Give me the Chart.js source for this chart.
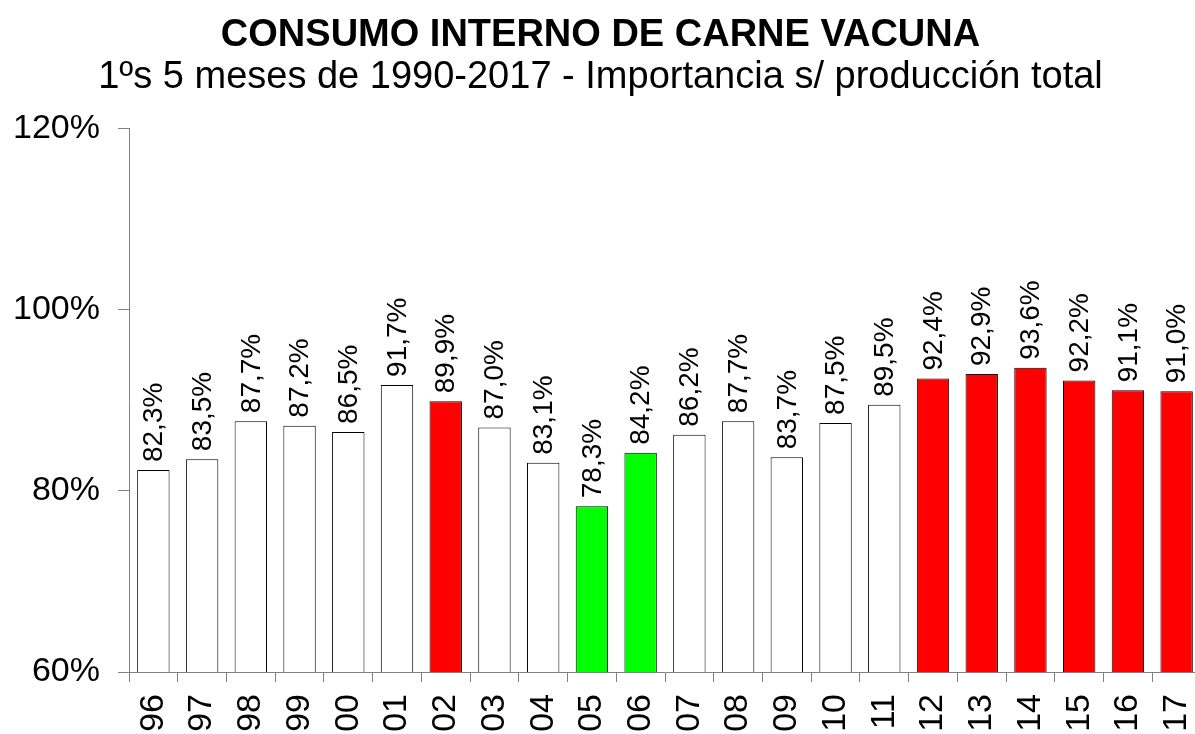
<!DOCTYPE html>
<html>
<head>
<meta charset="utf-8">
<script src="https://cdn.jsdelivr.net/npm/chart.js@4/dist/chart.umd.min.js"></script>
<style>
  html, body { margin: 0; padding: 0; background: #fff; overflow: hidden; }
  #wrap { width: 1201px; height: 734px; }
</style>
</head>
<body>
<div id="wrap"><canvas id="chart" width="1201" height="734"></canvas></div>
<script>
// ─── datos ───────────────────────────────────────────────
const years = ['96', '97', '98', '99', '00', '01', '02', '03', '04', '05', '06',
  '07', '08', '09', '10', '11', '12', '13', '14', '15', '16', '17'];
const share = [82.3, 83.5, 87.7, 87.2, 86.5, 91.7, 89.9, 87.0, 83.1, 78.3, 84.2,
  86.2, 87.7, 83.7, 87.5, 89.5, 92.4, 92.9, 93.6, 92.2, 91.1, 91.0];
// w = blanco, r = rojo, g = verde
const tone = ['w', 'w', 'w', 'w', 'w', 'w', 'r', 'w', 'w', 'g', 'g',
  'w', 'w', 'w', 'w', 'w', 'r', 'r', 'r', 'r', 'r', 'r'];
const yTicks = [60, 80, 100, 120];

const FONT = "'Liberation Sans', Arial, Helvetica, sans-serif";
const AXIS = '#808080';
const fills = { w: '#FFFFFF', r: '#FF0000', g: '#00FF00' };

const fmt = v => v.toFixed(1).replace('.', ',') + '%';

// etiquetas verticales sobre cada barra
const barLabels = {
  id: 'barLabels',
  afterDatasetsDraw(chart) {
    const ctx = chart.ctx;
    const meta = chart.getDatasetMeta(0);
    ctx.save();
    ctx.font = '28px ' + FONT;
    ctx.fillStyle = '#000';
    ctx.textAlign = 'left';
    ctx.textBaseline = 'middle';
    meta.data.forEach((bar, i) => {
      ctx.save();
      ctx.translate(bar.x + 1, bar.y - 8);
      ctx.rotate(-Math.PI / 2);
      ctx.fillText(fmt(share[i]), 0, 0);
      ctx.restore();
    });
    ctx.restore();
  }
};

new Chart(document.getElementById('chart'), {
  type: 'bar',
  data: {
    labels: years,
    datasets: [{
      data: share,
      backgroundColor: tone.map(t => fills[t]),
      borderColor: '#000',
      borderWidth: 1,
      borderSkipped: 'bottom',
      categoryPercentage: 1,
      barPercentage: 0.665,
    }],
  },
  options: {
    responsive: false,
    animation: false,
    layout: { padding: 0 },
    plugins: {
      legend: { display: false },
      tooltip: { enabled: false },
      title: {
        display: true,
        text: 'CONSUMO INTERNO DE CARNE VACUNA',
        color: '#000',
        font: { family: FONT, size: 38, weight: 'bold', lineHeight: 1.1 },
        padding: { top: 15, bottom: 0 },
      },
      subtitle: {
        display: true,
        text: '1ºs 5 meses de 1990-2017 - Importancia s/ producción total',
        color: '#000',
        font: { family: FONT, size: 38, weight: 'normal', lineHeight: 1.1 },
        padding: { top: 0, bottom: 30 },
      },
    },
    scales: {
      x: {
        offset: true,
        grid: { display: true, offset: true, drawOnChartArea: false, drawTicks: true, tickLength: 10, color: AXIS },
        border: { display: true, color: AXIS, width: 1 },
        ticks: {
          color: '#000', font: { family: FONT, size: 34 },
          minRotation: 90, maxRotation: 90, padding: 12, autoSkip: false,
        },
        afterFit: s => { s.height = 62; s.paddingLeft = 0; s.paddingRight = 0; },
      },
      y: {
        min: 60, max: 120,
        afterBuildTicks: s => { s.ticks = yTicks.map(v => ({ value: v })); },
        grid: { display: true, drawOnChartArea: false, drawTicks: true, tickLength: 11, color: AXIS },
        border: { display: true, color: AXIS, width: 1 },
        ticks: {
          color: '#000', font: { family: FONT, size: 34 }, padding: 18,
          callback: v => v + '%',
        },
        afterFit: s => { s.width = 129; },
      },
    },
  },
  plugins: [barLabels],
});
</script>
</body>
</html>
